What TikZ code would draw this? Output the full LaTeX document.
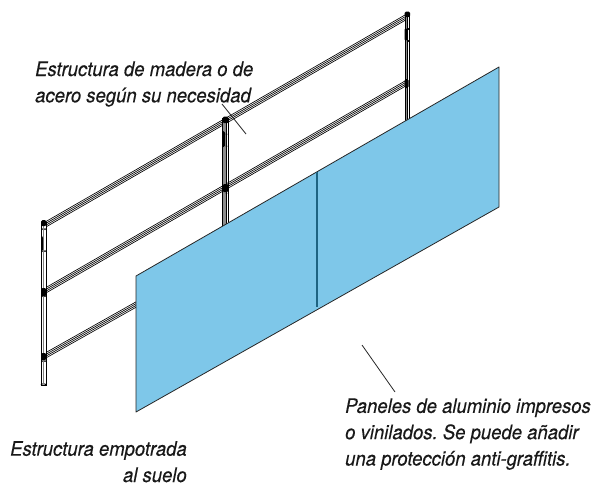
\documentclass[tikz,border=0pt]{standalone}
\usepackage{fontspec}
\setmainfont{TeX Gyre Heros}
\newfontface\labelfont[FakeStretch=0.925,FakeBold=0.25]{TeX Gyre Heros Italic}
\begin{document}
\begin{tikzpicture}[x=1pt,y=-1pt,
  lbl/.style={inner sep=0pt,text=black!90,font=\labelfont\fontsize{20}{26.3}\selectfont\frenchspacing},
  panel/.style={fill=panelblue,draw=black!85,line width=0.8pt,line join=round},
  seam/.style={draw=seamblue,line width=1.3pt},
  railline/.style={draw=black,line width=0.65pt},
  postline/.style={draw=black,line width=0.9pt},
  postfill/.style={fill=white,draw=black,line width=0.9pt},
  postgrey/.style={fill=black!45,draw=none},
  joint/.style={fill=black,draw=none,rounded corners=1.5pt},
  leader/.style={draw=black!85,line width=0.8pt}]
\definecolor{panelblue}{RGB}{126,199,233}
\definecolor{seamblue}{RGB}{30,100,130}
\useasboundingbox (0,0) rectangle (597,485);
% corner coordinates
\coordinate (pa) at (136,276);
\coordinate (pb) at (499,67);
\coordinate (pc) at (499,207);
\coordinate (pd) at (136,412);
\coordinate (sa) at (317,172);
\coordinate (sb) at (317,307);
% rails
\foreach \d in {0,1.8,3.6,5.4}{
  \draw[railline] (46,{221.5+\d}) -- (405,{15+\d});
  \draw[railline] (46,{287.5+\d}) -- (405,{81+\d});
  \draw[railline] (46,{352.5+\d}) -- (150,{294+\d});
}
% left post
\path[postfill] (41,222) rectangle (46,385);
\draw[postline] (41,385) arc[start angle=180,end angle=0,x radius=2.5,y radius=-1.2];
\draw[draw=black!50,line width=0.5pt] (43.5,224) -- (43.5,384);
\path[joint] (41,220) rectangle (46.5,226);
\path[joint] (41,236) rectangle (43,251);
\path[joint] (41,288) rectangle (46.5,296);
\path[joint] (41,353) rectangle (46.5,360);
\foreach \yy in {229,251,296,361}{\path[fill=black] (45,\yy) circle (1pt);\path[fill=black] (42,\yy) circle (1pt);}
% middle post
\path[postgrey] (222,120) rectangle (226,240);
\path[postfill,fill=none] (222,118) rectangle (228.5,240);
\draw[postline] (226,120) -- (226,240);
\path[joint] (222.5,116.5) rectangle (228.5,123);
\path[joint] (222,131) rectangle (225,147);
\path[joint] (222.5,184) rectangle (228.5,192);
\foreach \yy in {134,146,193}{\path[fill=black] (226.5,\yy) circle (1pt);}
% right post
\path[postgrey] (405,15) rectangle (408,125);
\path[postfill,fill=none] (405,13) rectangle (409.5,125);
\draw[postline] (407.5,15) -- (407.5,125);
\path[joint] (404.5,11.5) rectangle (410,17);
\path[joint] (404.5,28) rectangle (407,41);
\path[joint] (404.5,79) rectangle (408.5,88);
\foreach \yy in {29,41}{\path[fill=black] (408.5,\yy) circle (1pt);}
% panel
\path[panel] (pa) -- (pb) -- (pc) -- (pd) -- cycle;
\draw[seam] (sa) -- (sb);
% labels
\node[lbl,anchor=base west,align=left] (t1) at (35,102.3) {Estructura de madera o de\\acero según su necesidad};
\node[lbl,anchor=base east,align=right] (t2) at (187,482) {Estructura empotrada\\al suelo};
\node[lbl,anchor=base west,align=left] (t3) at (345,465.5) {Paneles de aluminio impresos\\o vinilados. Se puede añadir\\una protección anti-graffitis.};
% leaders
\coordinate (l1a) at (222,104);
\coordinate (l1b) at (246,134);
\coordinate (l2a) at (362,345);
\coordinate (l2b) at (395,392);
\draw[leader] (l1a) -- (l1b);
\draw[leader] (l2a) -- (l2b);
\end{tikzpicture}
\end{document}
